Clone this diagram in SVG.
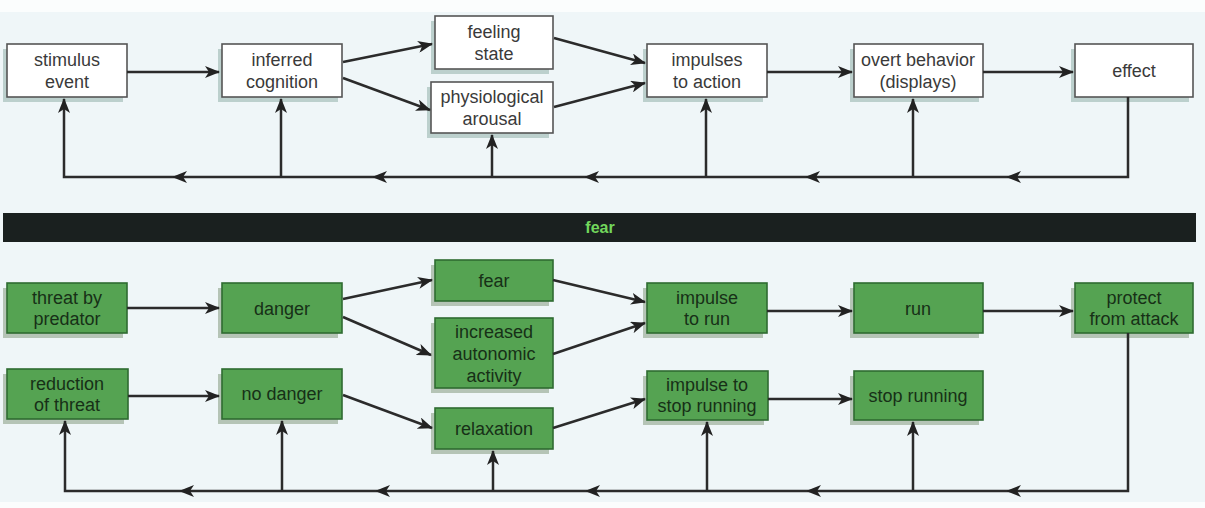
<svg xmlns="http://www.w3.org/2000/svg" width="1205" height="508" viewBox="0 0 1205 508">
<style>
.bg{fill:#eff6f8}
.wb{fill:#ffffff;stroke:#555;stroke-width:1.6}
.ws{fill:#bcd0cd}
.gb{fill:#55a352;stroke:#2f6b31;stroke-width:1.6}
.gs{fill:#b5c4b6}
.wt{font-family:"Liberation Sans",Arial,sans-serif;font-size:18px;fill:#3a3a3a;text-anchor:middle}
.gt{font-family:"Liberation Sans",Arial,sans-serif;font-size:18px;fill:#173017;text-anchor:middle}
.ln{fill:none;stroke:#2b2b2b;stroke-width:2.5}
.ar{marker-end:url(#ah)}
</style>
<defs>
<marker id="ah" markerUnits="userSpaceOnUse" markerWidth="16" markerHeight="12" refX="14" refY="6" orient="auto">
<path d="M0,0 L15,6 L0,12 L4,6 z" fill="#222"/>
</marker>
</defs>
<rect x="0" y="0" width="1205" height="508" fill="#fbfdfd"/>
<rect class="bg" x="0" y="12" width="1205" height="490"/>

<g id="stimulus-event"><rect class="ws" x="3" y="49" width="120" height="53"/><rect class="wb" x="7" y="44" width="120" height="53"/><text class="wt" x="67" y="66">stimulus</text><text class="wt" x="67" y="88">event</text></g>
<g id="inferred-cognition"><rect class="ws" x="218" y="49" width="120" height="53"/><rect class="wb" x="222" y="44" width="120" height="53"/><text class="wt" x="282" y="66">inferred</text><text class="wt" x="282" y="88">cognition</text></g>
<g id="feeling-state"><rect class="ws" x="431" y="21" width="118" height="53"/><rect class="wb" x="435" y="16" width="118" height="53"/><text class="wt" x="494" y="38">feeling</text><text class="wt" x="494" y="60">state</text></g>
<g id="physiological-arousal"><rect class="ws" x="427" y="87" width="122" height="51"/><rect class="wb" x="431" y="82" width="122" height="51"/><text class="wt" x="492" y="103">physiological</text><text class="wt" x="492" y="125">arousal</text></g>
<g id="impulses-to-action"><rect class="ws" x="643" y="49" width="120" height="53"/><rect class="wb" x="647" y="44" width="120" height="53"/><text class="wt" x="707" y="66">impulses</text><text class="wt" x="707" y="88">to action</text></g>
<g id="overt-behavior"><rect class="ws" x="850" y="49" width="129" height="53"/><rect class="wb" x="854" y="44" width="129" height="53"/><text class="wt" x="918" y="66">overt behavior</text><text class="wt" x="918" y="88">(displays)</text></g>
<g id="effect"><rect class="ws" x="1071" y="49" width="118" height="53"/><rect class="wb" x="1075" y="44" width="118" height="53"/><text class="wt" x="1134" y="77">effect</text></g>

<g id="fear-bar"><rect x="3" y="213" width="1193" height="29" fill="#1a201f"/><text x="600" y="233" font-family="'Liberation Sans',Arial,sans-serif" font-size="16" font-weight="bold" fill="#72d75c" text-anchor="middle">fear</text></g>

<g id="threat-by-predator"><rect class="gs" x="3" y="288" width="120" height="50"/><rect class="gb" x="7" y="283" width="120" height="50"/><text class="gt" x="67" y="304">threat by</text><text class="gt" x="67" y="325">predator</text></g>
<g id="danger"><rect class="gs" x="218" y="288" width="120" height="50"/><rect class="gb" x="222" y="283" width="120" height="50"/><text class="gt" x="282" y="315">danger</text></g>
<g id="fear"><rect class="gs" x="431" y="265" width="118" height="41"/><rect class="gb" x="435" y="260" width="118" height="41"/><text class="gt" x="494" y="287">fear</text></g>
<g id="increased-autonomic-activity"><rect class="gs" x="431" y="323" width="118" height="70"/><rect class="gb" x="435" y="318" width="118" height="70"/><text class="gt" x="494" y="338">increased</text><text class="gt" x="494" y="360">autonomic</text><text class="gt" x="494" y="382">activity</text></g>
<g id="impulse-to-run"><rect class="gs" x="643" y="288" width="120" height="50"/><rect class="gb" x="647" y="283" width="120" height="50"/><text class="gt" x="707" y="304">impulse</text><text class="gt" x="707" y="325">to run</text></g>
<g id="run"><rect class="gs" x="850" y="288" width="129" height="50"/><rect class="gb" x="854" y="283" width="129" height="50"/><text class="gt" x="918" y="315">run</text></g>
<g id="protect-from-attack"><rect class="gs" x="1071" y="288" width="118" height="50"/><rect class="gb" x="1075" y="283" width="118" height="50"/><text class="gt" x="1134" y="304">protect</text><text class="gt" x="1134" y="325">from attack</text></g>

<g id="reduction-of-threat"><rect class="gs" x="3" y="374" width="121" height="50"/><rect class="gb" x="7" y="369" width="121" height="50"/><text class="gt" x="67" y="390">reduction</text><text class="gt" x="67" y="411">of threat</text></g>
<g id="no-danger"><rect class="gs" x="218" y="374" width="120" height="50"/><rect class="gb" x="222" y="369" width="120" height="50"/><text class="gt" x="282" y="400">no danger</text></g>
<g id="relaxation"><rect class="gs" x="431" y="413" width="118" height="41"/><rect class="gb" x="435" y="408" width="118" height="41"/><text class="gt" x="494" y="435">relaxation</text></g>
<g id="impulse-to-stop-running"><rect class="gs" x="643" y="376" width="121" height="49"/><rect class="gb" x="647" y="371" width="121" height="49"/><text class="gt" x="707" y="391">impulse to</text><text class="gt" x="707" y="412">stop running</text></g>
<g id="stop-running"><rect class="gs" x="850" y="376" width="129" height="49"/><rect class="gb" x="854" y="371" width="129" height="49"/><text class="gt" x="918" y="402">stop running</text></g>

<g id="connectors">
<path class="ln ar" d="M127 72 H219"/>
<path class="ln ar" d="M343 62 L432 44"/>
<path class="ln ar" d="M343 78 L430 110"/>
<path class="ln ar" d="M554 38 L645 63"/>
<path class="ln ar" d="M554 107 L645 83"/>
<path class="ln ar" d="M767 72 H852"/>
<path class="ln ar" d="M983 72 H1073"/>
<path class="ln ar" d="M1128 97 V177 H1007"/>
<path class="ln ar" d="M1007 177 H806"/>
<path class="ln ar" d="M806 177 H585"/>
<path class="ln ar" d="M585 177 H373"/>
<path class="ln ar" d="M373 177 H173"/>
<path class="ln ar" d="M173 177 H64 V99"/>
<path class="ln ar" d="M281 177 V99"/>
<path class="ln ar" d="M492 177 V135"/>
<path class="ln ar" d="M706 177 V99"/>
<path class="ln ar" d="M913 177 V99"/>

<path class="ln ar" d="M127 308 H219"/>
<path class="ln ar" d="M343 299 L432 280"/>
<path class="ln ar" d="M343 317 L431 355"/>
<path class="ln ar" d="M553 280 L645 302"/>
<path class="ln ar" d="M553 354 L645 323"/>
<path class="ln ar" d="M767 311 H852"/>
<path class="ln ar" d="M983 311 H1073"/>
<path class="ln ar" d="M128 396 H219"/>
<path class="ln ar" d="M343 395 L432 428"/>
<path class="ln ar" d="M553 428 L645 399"/>
<path class="ln ar" d="M768 399 H852"/>
<path class="ln ar" d="M1128 333 V491 H1007"/>
<path class="ln ar" d="M1007 491 H807"/>
<path class="ln ar" d="M807 491 H586"/>
<path class="ln ar" d="M586 491 H376"/>
<path class="ln ar" d="M376 491 H180"/>
<path class="ln ar" d="M180 491 H65 V421"/>
<path class="ln ar" d="M282 491 V421"/>
<path class="ln ar" d="M493 491 V451"/>
<path class="ln ar" d="M707 491 V422"/>
<path class="ln ar" d="M913 491 V422"/>
</g>
</svg>
